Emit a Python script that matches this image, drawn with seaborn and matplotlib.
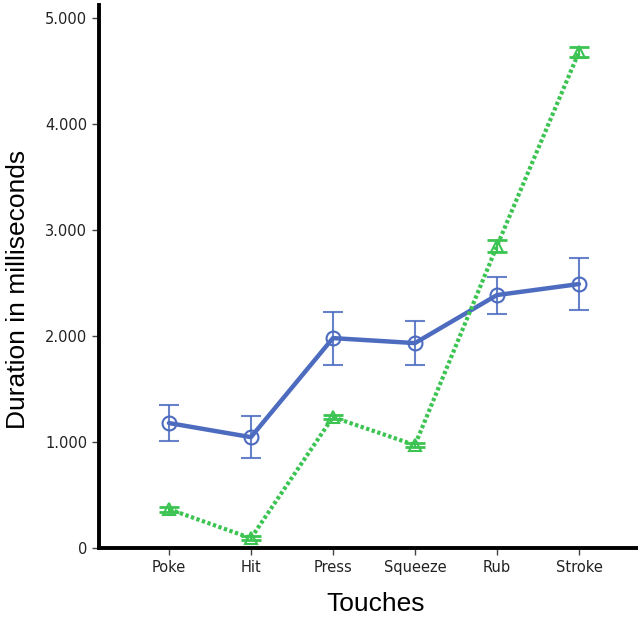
import matplotlib
matplotlib.use('Agg')
import matplotlib.pyplot as plt
from matplotlib.ticker import FuncFormatter
import numpy as np
import pandas as pd
import seaborn as sns

touches = ['Poke', 'Hit', 'Press', 'Squeeze', 'Rub', 'Stroke']

series_a = [1180, 1047, 1981, 1934, 2387, 2491]
series_a_lo = [1010, 850, 1726, 1726, 2208, 2245]
series_a_hi = [1350, 1245, 2226, 2142, 2557, 2736]

series_b = [368, 94, 1236, 972, 2849, 4679]
series_b_lo = [345, 75, 1215, 950, 2790, 4630]
series_b_hi = [390, 115, 1255, 995, 2905, 4725]

blue = '#4d6cc0'
green = '#3cc452'

sns.set_theme(style='white')
plt.rcParams['font.family'] = ['DejaVu Sans']


def fmt(v, pos):
    if v == 0:
        return '0'
    return '{:,.0f}'.format(v).replace(',', '.')


def main():
    df = pd.DataFrame({'touch': touches, 'a': series_a, 'b': series_b})

    fig = plt.figure(figsize=(6.38, 6.18), dpi=100)
    ax = fig.add_axes([0.155, 0.113, 0.845, 0.879])

    sns.lineplot(data=df, x='touch', y='a', color=blue, linewidth=3.2,
                 marker='o', markersize=10, markerfacecolor='none',
                 markeredgecolor=blue, markeredgewidth=1.5, ax=ax, sort=False)
    sns.lineplot(data=df, x='touch', y='b', color=green, linewidth=3.0,
                 dashes=False, marker='^', markersize=9, markerfacecolor='none',
                 markeredgecolor=green, markeredgewidth=1.5, ax=ax, sort=False)
    ax.lines[-1].set_dashes((0.8, 0.6))

    a = np.array(series_a)
    b = np.array(series_b)
    ax.errorbar(touches, a, yerr=[a - np.array(series_a_lo), np.array(series_a_hi) - a],
                fmt='none', ecolor=blue, elinewidth=1.5, capsize=7, capthick=1.5, alpha=0.85)
    ax.errorbar(touches, b, yerr=[b - np.array(series_b_lo), np.array(series_b_hi) - b],
                fmt='none', ecolor=green, elinewidth=1.5, capsize=7, capthick=2)

    ax.set_xlim(-0.854, 5.72)
    ax.set_ylim(0, 5123)
    ax.set_yticks([0, 1000, 2000, 3000, 4000, 5000])
    ax.yaxis.set_major_formatter(FuncFormatter(fmt))

    for s in ['top', 'right']:
        ax.spines[s].set_visible(False)
    for s in ['left', 'bottom']:
        ax.spines[s].set_color('black')
        ax.spines[s].set_linewidth(2.8)

    ax.tick_params(axis='both', which='major', direction='out', length=5, width=1,
                   color='#444444', labelsize=10.5, labelcolor='#222222', left=True, bottom=True)

    ax.set_xlabel('Touches', fontsize=19, family=['Liberation Sans'], color='black')
    ax.set_ylabel('Duration in milliseconds', fontsize=19, family=['Liberation Sans'],
                  color='black')
    ax.xaxis.set_label_coords(0.514, -0.081)
    ax.yaxis.set_label_coords(-0.128, 0.477)

    fig.savefig('out.png', dpi=100)


if __name__ == '__main__':
    main()
